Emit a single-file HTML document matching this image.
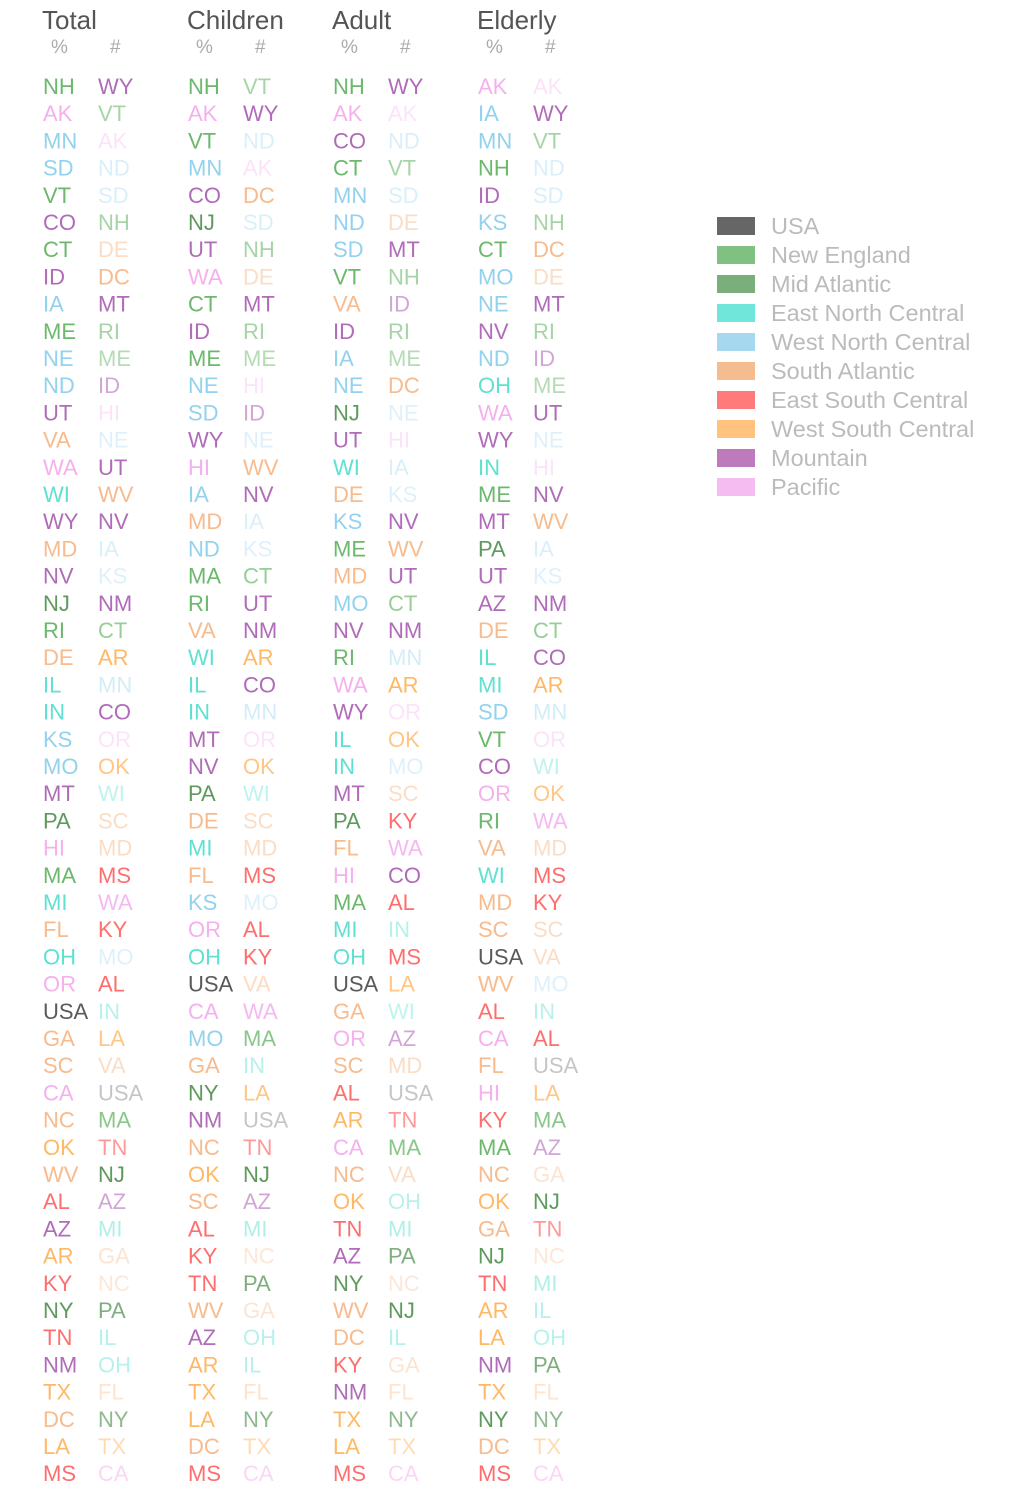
<!DOCTYPE html>
<html><head><meta charset="utf-8"><style>
body{margin:0;background:#fff;width:1012px;height:1500px;overflow:hidden;font-family:"Liberation Sans",Arial,sans-serif}
svg{display:block}
</style></head><body>
<svg id="chart" width="1012" height="1500" xmlns="http://www.w3.org/2000/svg"></svg>
<script>
const groups = ["Total","Children","Adult","Elderly"];
const totalPct = ["NH","AK","MN","SD","VT","CO","CT","ID","IA","ME","NE","ND","UT","VA","WA","WI","WY","MD","NV","NJ","RI","DE","IL","IN","KS","MO","MT","PA","HI","MA","MI","FL","OH","OR","USA","GA","SC","CA","NC","OK","WV","AL","AZ","AR","KY","NY","TN","NM","TX","DC","LA","MS"];
const totalNum = ["WY","VT","AK","ND","SD","NH","DE","DC","MT","RI","ME","ID","HI","NE","UT","WV","NV","IA","KS","NM","CT","AR","MN","CO","OR","OK","WI","SC","MD","MS","WA","KY","MO","AL","IN","LA","VA","USA","MA","TN","NJ","AZ","MI","GA","NC","PA","IL","OH","FL","NY","TX","CA"];
const childPct = ["NH","AK","VT","MN","CO","NJ","UT","WA","CT","ID","ME","NE","SD","WY","HI","IA","MD","ND","MA","RI","VA","WI","IL","IN","MT","NV","PA","DE","MI","FL","KS","OR","OH","USA","CA","MO","GA","NY","NM","NC","OK","SC","AL","KY","TN","WV","AZ","AR","TX","LA","DC","MS"];
const childNum = ["VT","WY","ND","AK","DC","SD","NH","DE","MT","RI","ME","HI","ID","NE","WV","NV","IA","KS","CT","UT","NM","AR","CO","MN","OR","OK","WI","SC","MD","MS","MO","AL","KY","VA","WA","MA","IN","LA","USA","TN","NJ","AZ","MI","NC","PA","GA","OH","IL","FL","NY","TX","CA"];
const adultPct = ["NH","AK","CO","CT","MN","ND","SD","VT","VA","ID","IA","NE","NJ","UT","WI","DE","KS","ME","MD","MO","NV","RI","WA","WY","IL","IN","MT","PA","FL","HI","MA","MI","OH","USA","GA","OR","SC","AL","AR","CA","NC","OK","TN","AZ","NY","WV","DC","KY","NM","TX","LA","MS"];
const adultNum = ["WY","AK","ND","VT","SD","DE","MT","NH","ID","RI","ME","DC","NE","HI","IA","KS","NV","WV","UT","CT","NM","MN","AR","OR","OK","MO","SC","KY","WA","CO","AL","IN","MS","LA","WI","AZ","MD","USA","TN","MA","VA","OH","MI","PA","NC","NJ","IL","GA","FL","NY","TX","CA"];
const elderPct = ["AK","IA","MN","NH","ID","KS","CT","MO","NE","NV","ND","OH","WA","WY","IN","ME","MT","PA","UT","AZ","DE","IL","MI","SD","VT","CO","OR","RI","VA","WI","MD","SC","USA","WV","AL","CA","FL","HI","KY","MA","NC","OK","GA","NJ","TN","AR","LA","NM","TX","NY","DC","MS"];
const elderNum = ["AK","WY","VT","ND","SD","NH","DC","DE","MT","RI","ID","ME","UT","NE","HI","NV","WV","IA","KS","NM","CT","CO","AR","MN","OR","WI","OK","WA","MD","MS","KY","SC","VA","MO","IN","AL","USA","LA","MA","AZ","GA","NJ","TN","NC","MI","IL","OH","PA","FL","NY","TX","CA"];
const regionNames = ["USA","New England","Mid Atlantic","East North Central","West North Central","South Atlantic","East South Central","West South Central","Mountain","Pacific"];
const regionColors = ["#5a5a5a","#6cb86c","#5e9a5e","#5fe0d2","#92d2ee","#f7bb8e","#ff6e6e","#ffb866","#b06cb8","#f5b0ee"];
const legendColors = ["#666666","#80c080","#7aae7a","#70e6da","#a6d8ef","#f5bd8f","#ff7b7b","#ffc27f","#bd7bbd","#f5bcf2"];
const stateRegion = {USA:0,CT:1,ME:1,MA:1,NH:1,RI:1,VT:1,NJ:2,NY:2,PA:2,IL:3,IN:3,MI:3,OH:3,WI:3,IA:4,KS:4,MN:4,MO:4,NE:4,ND:4,SD:4,DE:5,DC:5,FL:5,GA:5,MD:5,NC:5,SC:5,VA:5,WV:5,AL:6,KY:6,MS:6,TN:6,AR:7,LA:7,OK:7,TX:7,AZ:8,CO:8,ID:8,MT:8,NV:8,NM:8,UT:8,WY:8,AK:9,CA:9,HI:9,OR:9,WA:9};
const numAlpha = {WY:1,VT:.6,AK:.35,ND:.35,SD:.35,NH:.6,DE:.5,DC:1,MT:1,RI:.6,ME:.5,ID:.6,HI:.35,NE:.3,UT:1,WV:1,NV:1,IA:.35,KS:.3,NM:1,CT:.7,AR:1,MN:.4,CO:1,OR:.35,OK:.8,WI:.4,SC:.5,MD:.5,MS:1,WA:.9,KY:1,MO:.3,AL:1,IN:.45,LA:.8,VA:.5,USA:.35,MA:.8,TN:.7,NJ:1,AZ:.6,MI:.5,GA:.4,NC:.35,PA:.8,IL:.45,OH:.45,FL:.4,NY:.7,TX:.5,CA:.5};

const svg = document.getElementById('chart');
const NS = "http://www.w3.org/2000/svg";
const cols = [[totalPct,totalNum],[childPct,childNum],[adultPct,adultNum],[elderPct,elderNum]];
const gx = g => 43 + g*145;
const ry = i => 94 + i*27.2;
function txt(x,y,s,size,fill){const t=document.createElementNS(NS,'text');t.setAttribute('x',x);t.setAttribute('y',y);t.setAttribute('font-size',size);t.setAttribute('fill',fill);t.textContent=s;svg.appendChild(t);return t;}
groups.forEach((g,gi)=>{
  const h=txt(gx(gi)-1,29,g,26,'#555');
  
  
  const p=txt(gx(gi)+8,53,'%',19,'#aaa');
  
  
  const n=txt(gx(gi)+67,53,'#',19,'#aaa');
  
  
  cols[gi].forEach((arr,ci)=>{
    arr.forEach((s,i)=>{
      const t=txt(gx(gi)+ci*55,ry(i),s,22,regionColors[stateRegion[s]]);
      if(ci===1) t.setAttribute('fill-opacity',numAlpha[s]);
      
      
    });
  });
});
regionNames.forEach((r,i)=>{
  const y=217+i*29;
  const rc=document.createElementNS(NS,'rect');
  rc.setAttribute('x',717);rc.setAttribute('y',y);rc.setAttribute('width',38);rc.setAttribute('height',18);rc.setAttribute('fill',legendColors[i]);
  
  
  svg.appendChild(rc);
  const t=txt(771,y+17,r,23.5,'#bbb');
  
  
});
</script>
</body></html>
